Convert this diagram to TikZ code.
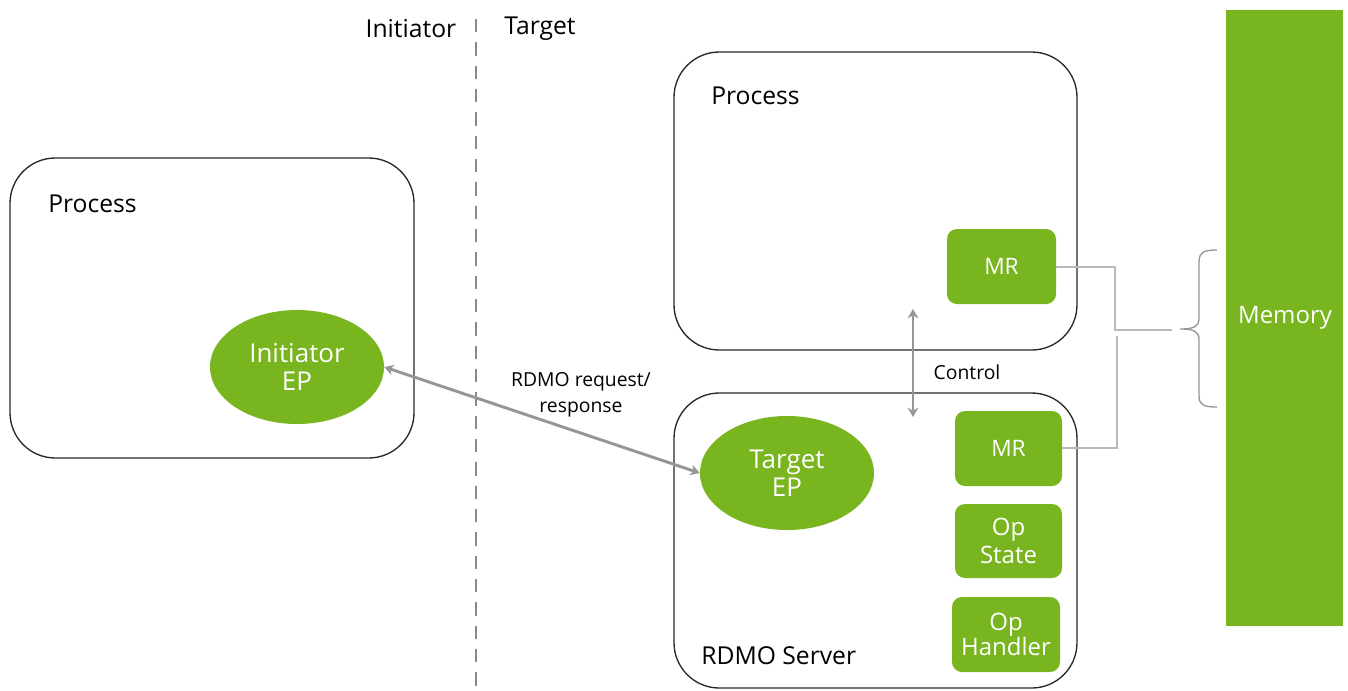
\documentclass[tikz,border=0pt]{standalone}
\usepackage{fontspec}
\setmainfont{Open Sans}
\usetikzlibrary{arrows.meta,shapes.geometric,fit}
\definecolor{nvgreen}{RGB}{120,181,30}
\definecolor{arrgray}{RGB}{150,150,150}
\definecolor{divgray}{RGB}{138,138,138}
\definecolor{conngray}{RGB}{185,185,185}
\definecolor{boxline}{RGB}{40,40,40}
\tikzset{
  procbox/.style={draw=boxline, line width=1pt, rounded corners=34pt, inner sep=0pt},
  greenbox/.style={fill=nvgreen, rounded corners=7.5pt, inner sep=0pt},
  greentxt/.style={text=white, inner sep=0pt, align=center, font=\fontsize{18}{20}\selectfont},
  greenell/.style={ellipse, fill=nvgreen, inner sep=0pt, text=white, font=\fontsize{19.5}{21}\selectfont, align=center, minimum width=130.5pt, minimum height=85.5pt},
  bigtxt/.style={font=\fontsize{18.5}{22}\selectfont, inner sep=0pt, text=black},
  smalltxt/.style={font=\fontsize{14.5}{19.5}\selectfont, inner sep=0pt, text=black, align=center},
  dblarrow/.style={draw=arrgray, line width=2.2pt, {Stealth[length=7pt,width=8pt]}-{Stealth[length=7pt,width=8pt]}},
  connline/.style={draw=conngray, line width=1.1pt},
  divider/.style={draw=divgray, line width=2pt, dash pattern=on 10pt off 7.5pt}
}
\begin{document}
\begin{tikzpicture}[x=0.75pt,y=-0.75pt]
\useasboundingbox[fill=white] (0,0) rectangle (1348,690);

% divider
\coordinate (dtop) at (476,19);
\coordinate (dbot) at (476,690);
\draw[divider] (dtop) -- (dbot);
\node[bigtxt] (linit) at (411,29) {Initiator};
\node[bigtxt] (ltarg) at (540,29) {Target};

% boxes
\node[procbox, fit={(10,158) (414,458)}] (lproc) {};
\node[bigtxt, anchor=west] (lproclbl) at (48,204) {Process};
\node[procbox, fit={(674,52) (1077,350)}] (tproc) {};
\node[bigtxt, anchor=west] (tproclbl) at (711,96) {Process};
\node[procbox, fit={(674,393) (1077,688)}] (srv) {};
\node[bigtxt, anchor=west] (srvlbl) at (701,656) {RDMO Server};

% memory
\node[fill=nvgreen, inner sep=0pt, fit={(1226,10) (1343,626)}] (mem) {};
\node[greentxt] (memlbl) at (1285,318) {Memory};

% green boxes
\node[greenbox, fit={(947,229) (1056,304)}] (mr1) {};
\node[greentxt, font=\fontsize{17}{20}\selectfont] (mr1lbl) at (mr1.center) {MR};
\node[greenbox, fit={(955,411) (1062,486)}] (mr2) {};
\node[greentxt, font=\fontsize{17}{20}\selectfont] (mr2lbl) at (mr2.center) {MR};
\node[greenbox, fit={(955,504) (1062,578)}] (opst) {};
\node[greentxt, font=\fontsize{18}{20.5}\selectfont] (opstlbl) at (opst.center) {Op\\State};
\node[greenbox, fit={(952,597) (1060,672)}] (ophd) {};
\node[greentxt, font=\fontsize{18}{19}\selectfont] (ophdlbl) at (ophd.center) {Op\\Handler};

% ellipses
\node[greenell] (iep) at (297,367) {Initiator\\EP};
\node[greenell] (tep) at (787,473) {Target\\EP};

% RDMO arrow
\draw[dblarrow] (iep.east) -- (tep.west);
\node[smalltxt] (rdmolbl) at (581,395) {RDMO request/\\response};

% control arrow
\coordinate (ctop) at (913,309);
\coordinate (cbot) at (913,417);
\draw[dblarrow] (ctop) -- (cbot);
\node[smalltxt] (ctrllbl) at (967,372) {Control};

% connectors to brace
\coordinate (j1) at (1115,330);
\coordinate (btip) at (1172,330);
\draw[connline] (mr1.east |- 0,267) -| (j1) -- (btip);
\coordinate (j2) at (1117,336);
\draw[connline] (mr2.east |- 0,448) -| (j2);

% brace
\draw[draw=arrgray, line width=1pt] (1217,250) .. controls (1204,250) and (1199,252) .. (1199,262) -- (1199,318) .. controls (1199,326) and (1195,329) .. (1180,329) .. controls (1195,329) and (1199,332) .. (1199,340) -- (1199,396) .. controls (1199,405) and (1204,407) .. (1217,407);
\end{tikzpicture}
\end{document}
